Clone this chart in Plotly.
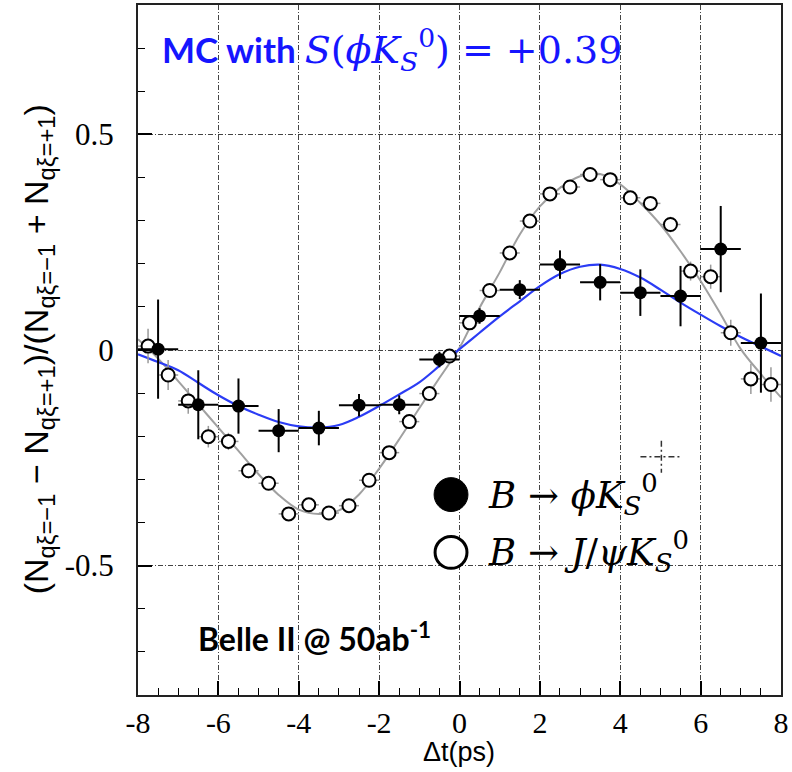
import plotly.graph_objects as go

# --- B -> phi K_S^0 : binned asymmetry (bin centres, values, errors) ---
phiks_t = [-7.5, -6.5, -5.5, -4.5, -3.5, -2.5, -1.5, -0.5,
           0.5, 1.5, 2.5, 3.5, 4.5, 5.5, 6.5, 7.5]
phiks_asym = [0.002, -0.127, -0.130, -0.187, -0.181, -0.128, -0.127, -0.022,
              0.079, 0.140, 0.198, 0.157, 0.133, 0.125, 0.234, 0.016]
phiks_err = [0.115, 0.080, 0.064, 0.050, 0.040, 0.026, 0.022, 0.018,
             0.018, 0.022, 0.033, 0.042, 0.054, 0.070, 0.100, 0.115]
phiks_halfbin = [0.5] * len(phiks_t)

# --- B -> J/psi K_S^0 : binned asymmetry ---
jpsi_t = [-7.75, -7.25, -6.75, -6.25, -5.75, -5.25, -4.75, -4.25,
          -3.75, -3.25, -2.75, -2.25, -1.75, -1.25, -0.75, -0.25,
          0.25, 0.75, 1.25, 1.75, 2.25, 2.75, 3.25, 3.75,
          4.25, 4.75, 5.25, 5.75, 6.25, 6.75, 7.25, 7.75]
jpsi_asym = [0.009, -0.058, -0.118, -0.201, -0.212, -0.280, -0.309, -0.380,
             -0.359, -0.378, -0.361, -0.302, -0.238, -0.166, -0.101, -0.014,
             0.063, 0.138, 0.225, 0.299, 0.362, 0.378, 0.407, 0.395,
             0.353, 0.340, 0.291, 0.183, 0.170, 0.040, -0.067, -0.080]
jpsi_err = [0.040, 0.035, 0.030, 0.025, 0.020, 0.018, 0.015, 0.012,
            0.012, 0.012, 0.012, 0.012, 0.012, 0.012, 0.012, 0.012,
            0.012, 0.012, 0.012, 0.012, 0.012, 0.012, 0.012, 0.012,
            0.012, 0.015, 0.018, 0.022, 0.028, 0.030, 0.035, 0.040]
jpsi_halfbin = [0.25] * len(jpsi_t)

# --- fitted curves, sampled every 0.5 ps ---
fit_t = [-8.0, -7.5, -7.0, -6.5, -6.0, -5.5, -5.0, -4.5, -4.0, -3.5, -3.0,
         -2.5, -2.0, -1.5, -1.0, -0.5, 0.0, 0.5, 1.0, 1.5, 2.0, 2.5, 3.0,
         3.5, 4.0, 4.5, 5.0, 5.5, 6.0, 6.5, 7.0, 7.5, 8.0]
fit_phiks = [-0.010, -0.028, -0.047, -0.076, -0.105, -0.130, -0.150, -0.167,
             -0.177, -0.180, -0.174, -0.155, -0.130, -0.103, -0.075, -0.037,
             0.002, 0.040, 0.078, 0.113, 0.148, 0.176, 0.193, 0.198,
             0.188, 0.168, 0.140, 0.110, 0.082, 0.055, 0.030, 0.008, -0.014]
fit_jpsi = [0.025, -0.020, -0.072, -0.126, -0.180, -0.234, -0.288, -0.336,
            -0.370, -0.380, -0.372, -0.335, -0.275, -0.207, -0.135, -0.065,
            0.005, 0.098, 0.180, 0.268, 0.333, 0.376, 0.403, 0.408,
            0.384, 0.341, 0.291, 0.229, 0.160, 0.083, 0.002, -0.056, -0.110]

x_ticks = [-8, -6, -4, -2, 0, 2, 4, 6, 8]
y_ticks = [-0.5, 0, 0.5]
y_ticktext = ["-0.5", "0", "0.5"]

BLUE = "#2b3cf5"
TEXT_BLUE = "#1515ff"
GREY = "#a0a0a0"
SERIF = "Liberation Serif"
MATH = "DejaVu Serif"

W, H = 792, 772
ML, MR, MT, MB = 138, 9, 3, 77


def px(xp):
    return (xp - ML) / (W - ML - MR)


def py(yp):
    return (H - MB - yp) / (H - MT - MB)


fig = go.Figure()

fig.add_trace(go.Scatter(x=fit_t, y=fit_jpsi, mode="lines",
                         line=dict(color=GREY, width=2, shape="spline"),
                         hoverinfo="skip"))
fig.add_trace(go.Scatter(x=fit_t, y=fit_phiks, mode="lines",
                         line=dict(color=BLUE, width=2.2, shape="spline"),
                         hoverinfo="skip"))

fig.add_trace(go.Scatter(
    x=jpsi_t, y=jpsi_asym, mode="markers",
    marker=dict(symbol="circle", size=13, color="white",
                line=dict(width=2, color="black")),
    error_y=dict(type="data", array=jpsi_err, color="#9a9a9a", thickness=1.5, width=0),
    error_x=dict(type="data", array=jpsi_halfbin, color="#9a9a9a", thickness=1.5, width=0),
))

fig.add_trace(go.Scatter(
    x=phiks_t, y=phiks_asym, mode="markers",
    marker=dict(symbol="circle", size=13, color="black"),
    error_y=dict(type="data", array=phiks_err, color="black", thickness=2, width=0),
    error_x=dict(type="data", array=phiks_halfbin, color="black", thickness=2, width=0),
))

grid_dash = "5px,2px,1px,2px"

fig.update_xaxes(
    range=[-8, 8], tickvals=x_ticks, ticktext=[str(v) for v in x_ticks],
    ticks="inside", ticklen=14, tickwidth=1.5, tickcolor="black",
    showline=True, linecolor="#222", linewidth=2, mirror=True,
    showgrid=True, gridcolor="#444", gridwidth=1, griddash=grid_dash,
    zeroline=False, ticklabelstandoff=0,
    tickfont=dict(family=SERIF, size=30, color="black"),
    minor=dict(dtick=0.5, ticks="inside", ticklen=7, tickcolor="black",
               tickwidth=1.2, showgrid=False),
)
fig.update_yaxes(
    range=[-0.8, 0.8], tickvals=y_ticks, ticktext=y_ticktext,
    ticks="inside", ticklen=14, tickwidth=1.5, tickcolor="black",
    showline=True, linecolor="#222", linewidth=2, mirror=True,
    showgrid=True, gridcolor="#444", gridwidth=1, griddash=grid_dash,
    zeroline=False, ticklabelstandoff=16,
    tickfont=dict(family=SERIF, size=31, color="black"),
    minor=dict(dtick=0.1, ticks="inside", ticklen=7, tickcolor="black",
               tickwidth=1.2, showgrid=False),
)

annotations = [
    dict(x=px(160), y=py(48), xref="paper", yref="paper", xanchor="left", yanchor="middle",
         showarrow=False,
         text=("<b>MC with</b> <span style='font-family:DejaVu Serif;font-size:38px'>"
               "<i>S</i>(<i>ϕK</i><sub><i>S</i></sub><sup>0</sup>) = +0.39</span>"),
         font=dict(family="Lato", size=35, color=TEXT_BLUE)),
    dict(x=px(196), y=py(637), xref="paper", yref="paper", xanchor="left", yanchor="middle",
         showarrow=False,
         text="<b>Belle II @ 50ab<sup>-1</sup></b>",
         font=dict(family="Lato", size=32, color="black")),
    dict(x=px(487), y=py(494), xref="paper", yref="paper", xanchor="left", yanchor="middle",
         showarrow=False,
         text="<i>B</i> → <i>ϕK</i><sub><i>S</i></sub><sup>0</sup>",
         font=dict(family=MATH, size=37, color="black")),
    dict(x=px(487), y=py(551), xref="paper", yref="paper", xanchor="left", yanchor="middle",
         showarrow=False,
         text="<i>B</i> → <i>J</i>/<i>ψK</i><sub><i>S</i></sub><sup>0</sup>",
         font=dict(family=MATH, size=37, color="black")),
    dict(x=px(460), y=py(752), xref="paper", yref="paper", xanchor="center", yanchor="middle",
         showarrow=False, text="Δt(ps)",
         font=dict(family="Liberation Sans", size=27, color="black")),
    dict(x=px(38), y=py(348), xref="paper", yref="paper", xanchor="center", yanchor="middle",
         showarrow=False, textangle=-90,
         text=("(N<sub>qξ=−1</sub> − N<sub>qξ=+1</sub>)/(N<sub>qξ=−1</sub> + N<sub>qξ=+1</sub>)"),
         font=dict(family="Liberation Sans", size=34, color="black")),
]

shapes = [
    # legend symbols
    dict(type="circle", xref="paper", yref="paper",
         x0=px(452 - 17), x1=px(452 + 17), y0=py(494 + 17), y1=py(494 - 17),
         fillcolor="black", line=dict(color="black", width=1)),
    dict(type="circle", xref="paper", yref="paper",
         x0=px(452 - 16), x1=px(452 + 16), y0=py(552 + 16), y1=py(552 - 16),
         fillcolor="white", line=dict(color="black", width=3)),
    # stray dash-dot cross above the legend
    dict(type="line", xref="paper", yref="paper", x0=px(642), x1=px(684), y0=py(456), y1=py(456),
         line=dict(color="#333", width=1.5, dash="6px,3px,2px,3px")),
    dict(type="line", xref="paper", yref="paper", x0=px(663), x1=px(663), y0=py(440), y1=py(472),
         line=dict(color="#333", width=1.5, dash="6px,3px,2px,3px")),
]

fig.update_layout(
    width=W, height=H,
    margin=dict(l=ML, r=MR, t=MT, b=MB),
    paper_bgcolor="white", plot_bgcolor="white",
    showlegend=False,
    annotations=annotations, shapes=shapes,
)

fig.write_html("out.html")
